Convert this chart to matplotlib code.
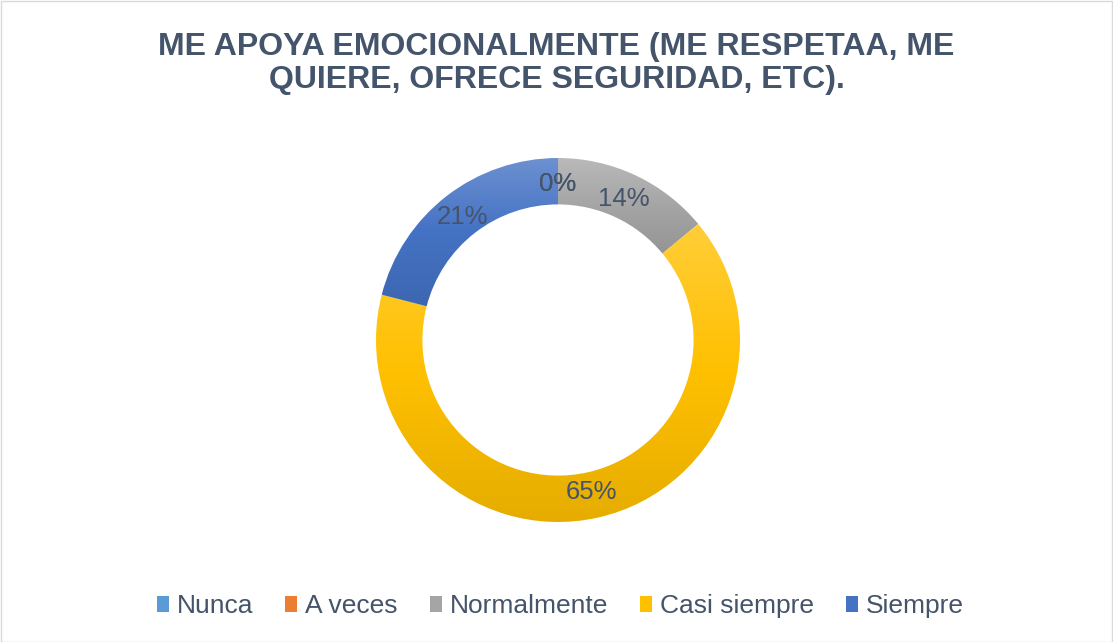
import matplotlib
matplotlib.use("Agg")
import matplotlib.pyplot as plt
import numpy as np
from matplotlib.patches import Rectangle
from matplotlib.colors import to_rgb

categories = ["Nunca", "A veces", "Normalmente", "Casi siempre", "Siempre"]
values = [0, 0, 14, 65, 21]
colors = ["#5B9BD5", "#ED7D31", "#A5A5A5", "#FFC000", "#4472C4"]
title = "ME APOYA EMOCIONALMENTE (ME RESPETAA, ME\nQUIERE, OFRECE SEGURIDAD, ETC)."

W, H = 1113, 642
fig = plt.figure(figsize=(W / 100, H / 100), dpi=100)
fig.patch.set_facecolor("white")
plt.rcParams["font.family"] = ["Liberation Sans", "DejaVu Sans"]

text_color = "#44546A"


def grad_colors(c):
    base = np.array(to_rgb(c))
    top = base + (1 - base) * 0.22
    bottom = base * 0.9
    return top, base, bottom


# Donut axes: center (558, 340) px, radius 182 px
cx, cy, r = 558, 340, 182
ax = fig.add_axes([(cx - r) / W, (H - cy - r) / H, 2 * r / W, 2 * r / H])
wedges, texts, autotexts = ax.pie(
    values, colors=colors, startangle=90, counterclock=False,
    radius=1.0, wedgeprops=dict(width=0.255, edgecolor="none"),
    autopct="%.0f%%", pctdistance=0.855,
    textprops=dict(color=text_color, fontsize=18.5),
)

# vertical gradient fill per wedge (lighter top, darker bottom)
for w, c, v in zip(wedges, colors, values):
    if v <= 0:
        continue
    path = w.get_patch_transform().transform_path(w.get_path())
    ext = path.get_extents()
    top, mid, bot = grad_colors(c)
    n = 256
    t = np.linspace(0, 1, n)[:, None]  # 0 bottom -> 1 top
    col = np.where(t < 0.5,
                   bot[None, :] + (mid - bot)[None, :] * (t / 0.5),
                   mid[None, :] + (top - mid)[None, :] * ((t - 0.5) / 0.5))
    img = np.repeat(col[:, None, :], 2, axis=1)
    im = ax.imshow(img, extent=[ext.x0, ext.x1, ext.y0, ext.y1], origin="lower",
                   aspect="auto", interpolation="bilinear", zorder=w.get_zorder())
    im.set_clip_path(w)
    w.set_facecolor("none")

for t_ in autotexts:
    t_.set_zorder(5)

ax.set_xlim(-1, 1)
ax.set_ylim(-1, 1)
ax.set_aspect("equal")
ax.axis("off")

fig.text(0.5, 1 - 63.5 / H, title, ha="center", va="center", fontsize=23,
         fontweight="bold", color=text_color, linespacing=1.1)

handles = [Rectangle((0, 0), 1, 1, facecolor=c, edgecolor="none") for c in colors]
fig.legend(handles, categories, loc="center", bbox_to_anchor=(0.5 + 4 / W, 1 - 606 / H),
           ncol=5, frameon=False, fontsize=19, labelcolor=text_color,
           handlelength=0.45, handleheight=0.55, handletextpad=0.3, columnspacing=1.22)

fig.add_artist(Rectangle((0.5 / W, 0.5 / H), 1 - 1.5 / W, 1 - 1.5 / H,
                         transform=fig.transFigure, fill=False,
                         edgecolor="#D9D9D9", linewidth=1))

fig.savefig("out.png", dpi=100, facecolor="white")
